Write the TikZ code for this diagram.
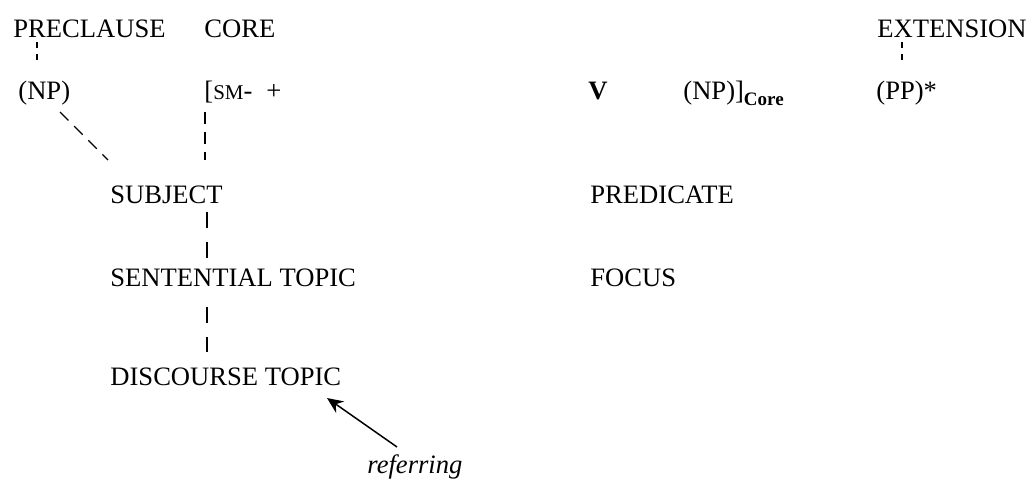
\documentclass[tikz,border=0pt]{standalone}
\usepackage{fontspec}
\setmainfont{Liberation Serif}
\usetikzlibrary{arrows.meta}
\begin{document}
\begin{tikzpicture}[x=0.5pt,y=-0.5pt,
  lbl/.style={anchor=base west,inner sep=0pt,font=\fontsize{13.3}{15}\selectfont},
  dashline/.style={line width=0.6pt,dash pattern=on 3pt off 3pt},
  diagdash/.style={line width=0.6pt,dash pattern=on 6pt off 4pt},
  longdash/.style={line width=0.6pt,dash pattern=on 8pt off 7pt},
  arr/.style={line width=0.75pt,-{Stealth[length=8pt,width=7pt]}}]
\useasboundingbox (0,0) rectangle (1029,483);
\node[lbl] (pre) at (13,37) {PRECLAUSE};
\node[lbl] (core) at (204,37) {CORE};
\node[lbl] (ext) at (877,37) {EXTENSION};
\node[lbl] (np1) at (18,99) {(NP)};
\node[lbl] (sm) at (204,99) {[{\fontsize{10.5}{12}\selectfont SM}-};
\node[lbl] (plus) at (266,99) {+};
\node[lbl] (v) at (588,99) {\textbf{V}};
\node[lbl] (np2) at (683,99) {(NP)]\raisebox{-3pt}{\fontsize{9.5}{11}\selectfont\bfseries Core}};
\node[lbl] (pp) at (876,99) {(PP)*};
\node[lbl] (subj) at (110,203) {SUBJECT};
\node[lbl] (pred) at (590,203) {PREDICATE};
\node[lbl] (sent) at (110,286) {SENTENTIAL TOPIC};
\node[lbl] (foc) at (590,286) {FOCUS};
\node[lbl] (disc) at (110,385) {DISCOURSE TOPIC};
\node[lbl] (ref) at (367,473) {\textit{referring}};
% connector endpoints
\coordinate (preB) at (37,42);
\coordinate (npT) at (37,62);
\coordinate (extB) at (902,42);
\coordinate (ppT) at (902,62);
\coordinate (npB) at (60,112);
\coordinate (subjT) at (108,160);
\coordinate (smB) at (205,112);
\coordinate (subjT2) at (205,160);
\coordinate (subjB) at (207,212);
\coordinate (sentT) at (207,260);
\coordinate (sentB) at (207,307);
\coordinate (discT) at (207,352);
\coordinate (refT) at (397,447);
\coordinate (discR) at (327,398);
\draw[dashline] (preB) -- (npT);
\draw[dashline] (extB) -- (ppT);
\draw[diagdash] (npB) -- (subjT);
\draw[diagdash] (smB) -- (subjT2);
\draw[longdash] (subjB) -- (sentT);
\draw[longdash] (sentB) -- (discT);
\draw[arr] (refT) -- (discR);
\end{tikzpicture}
\end{document}
